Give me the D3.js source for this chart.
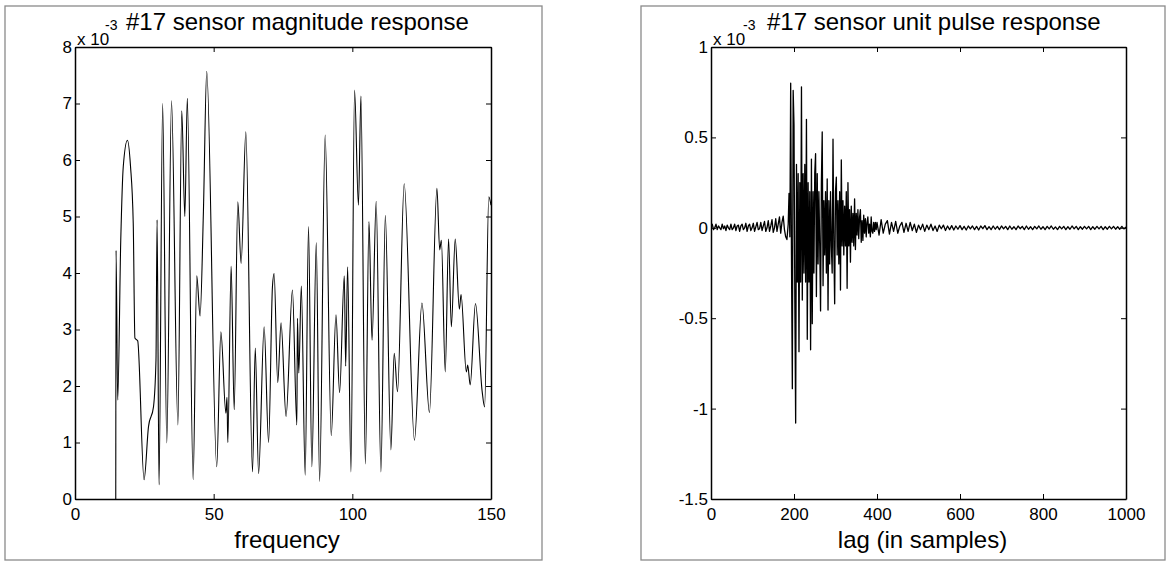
<!DOCTYPE html>
<html>
<head>
<meta charset="utf-8">
<script src="https://cdn.jsdelivr.net/npm/d3@7"></script>
<style>
  body { margin: 0; background: #fff; }
  svg text { font-family: Arial, "Liberation Sans", Helvetica, sans-serif; fill: #000; }
</style>
</head>
<body>
<div id="chart"></div>
<script>
// magnitude response (values are x 1e-3)
let magFreq = [14.7, 14.8, 15.4, 16.5, 17.4, 18.9, 20.0, 21.0, 21.6, 22.6,
  24.9, 26.5, 28.3, 29.2, 29.6, 30.3, 31.6, 33.1, 34.8, 37.1,
  38.5, 39.6, 40.5, 42.6, 43.9, 45.1, 46.3, 47.5, 51.1, 52.6,
  54.4, 54.8, 55.1, 56.3, 57.4, 58.7, 59.9, 61.6, 64.0, 65.0,
  66.2, 68.2, 69.8, 71.2, 71.8, 73.1, 74.3, 76.1, 78.4, 80.0,
  80.2, 80.7, 81.6, 83.0, 84.2, 85.4, 87.0, 88.2, 90.2, 92.4,
  94.1, 95.4, 97.1, 97.6, 98.3, 99.5, 100.8, 102.2, 103.1, 104.7,
  106.0, 107.1, 108.6, 110.3, 111.9, 113.9, 115.1, 116.3, 118.7, 122.4,
  125.1, 127.8, 130.5, 131.5, 132.1, 133.5, 134.7, 135.7, 137.1, 138.6,
  139.2, 141.1, 141.6, 142.5, 144.4, 146.8, 147.7, 149.2, 150]
let magValue = [0, 4.4, 1.75, 4.58, 5.88, 6.35, 5.9, 4.88, 2.85, 2.8,
  0.34, 1.28, 1.63, 2.46, 4.94, 0.25, 7.0, 0.99, 7.05, 1.31,
  6.87, 5.0, 7.09, 0.34, 3.95, 3.24, 5.08, 7.57, 0.57, 2.96,
  1.52, 1.8, 1.0, 4.12, 1.58, 5.26, 4.17, 6.5, 0.48, 2.67,
  0.45, 3.05, 1.0, 3.76, 3.99, 2.06, 3.12, 1.46, 3.7, 1.31,
  3.2, 2.23, 3.77, 0.42, 4.82, 0.57, 4.54, 0.31, 6.44, 1.12,
  3.26, 1.88, 3.95, 2.35, 4.11, 0.48, 7.24, 5.2, 7.13, 0.62,
  4.91, 2.81, 5.27, 0.48, 5.02, 0.87, 2.58, 1.9, 5.58, 1.04,
  3.47, 1.53, 5.5, 4.41, 4.58, 2.25, 4.6, 3.05, 4.6, 3.36,
  3.62, 2.25, 2.37, 2.02, 3.46, 1.91, 1.63, 5.35, 5.2]
let magXTicks = [0, 50, 100, 150]
let magYTicks = [0, 1, 2, 3, 4, 5, 6, 7, 8]

// unit pulse response (values are x 1e-3), three stretches of lags
// lags 0..186, every 3 samples
let pulsePre = [0.01, 0.02, -0.01, 0.0, 0.02, -0.01, 0.01, 0.0, -0.01, 0.02,
  -0.005, 0.01, -0.015, 0.015, 0.0, -0.01, 0.02, -0.01, 0.0, 0.02,
  -0.015, 0.01, 0.015, -0.02, 0.01, 0.02, -0.01, 0.0, 0.025, -0.02,
  0.01, 0.02, -0.015, 0.0, 0.025, -0.02, 0.005, 0.03, -0.01, -0.005,
  0.03, -0.015, 0.01, 0.035, -0.02, 0.0, 0.04, -0.02, 0.01, 0.045,
  -0.025, 0.0, 0.05, -0.02, 0.02, 0.06, -0.03, 0.03, 0.065, -0.01,
  -0.05, -0.065, 0.02]
// lags 188..398, every 2 samples
let pulseBurst = [0.19, -0.05, 0.80, -0.2, -0.89, 0.76, 0.57, -0.4, -1.08, 0.35,
  -0.3, 0.3, -0.685, 0.25, -0.3, 0.78, -0.4, 0.3, -0.25, 0.35,
  -0.3, 0.6, -0.617, 0.25, -0.3, 0.2, -0.675, 0.38, -0.53, 0.2,
  -0.25, 0.3, 0.41, -0.38, 0.3, -0.2, 0.2, -0.1, -0.46, 0.25,
  0.53, -0.32, 0.15, -0.15, 0.2, -0.25, 0.27, -0.455, 0.15, -0.2,
  0.2, -0.1, -0.25, 0.49, -0.1, -0.42, 0.2, 0.28, -0.15, 0.15,
  -0.2, 0.2, -0.344, 0.375, -0.1, 0.15, -0.15, 0.12, -0.1, 0.2,
  -0.335, 0.25, -0.1, 0.1, -0.19, 0.12, -0.08, 0.08, -0.1, 0.16,
  -0.12, 0.08, -0.04, 0.1, -0.06, 0.06, 0.1, -0.08, 0.04, -0.07,
  0.07, -0.03, 0.05, -0.05, 0.03, 0.06, -0.03, 0.02, -0.05, 0.06,
  -0.02, -0.03, 0.03, -0.02, 0.03, -0.01]
// lags 400..1000, every 5 samples
let pulseTail = [0.03, -0.04, 0.045, -0.03, 0.02, 0.04, -0.035, 0.03, -0.02, 0.035,
  -0.03, 0.01, 0.03, -0.025, 0.025, -0.02, 0.03, -0.015, 0.02, -0.025, 0.015,
  -0.01, 0.02, -0.02, 0.015, -0.01, 0.02, -0.015, 0.01, -0.02, 0.015,
  -0.005, 0.015, -0.015, 0.01, -0.01, 0.012, -0.012, 0.01, -0.008, 0.012,
  -0.01, 0.008, -0.012, 0.01, -0.006, 0.01, -0.01, 0.008, -0.012, 0.01,
  -0.005, 0.012, -0.01, 0.006, -0.01, 0.01, -0.008, 0.008, -0.01, 0.01,
  -0.006, 0.008, -0.01, 0.01, -0.008, 0.006, -0.01, 0.01, -0.005, 0.008,
  -0.01, 0.01, -0.008, 0.006, -0.01, 0.008, -0.006, 0.01, -0.008, 0.006,
  -0.01, 0.008, -0.006, 0.01, -0.008, 0.005, -0.01, 0.008, -0.006, 0.008,
  -0.01, 0.006, -0.008, 0.01, -0.006, 0.008, -0.01, 0.006, -0.008, 0.008,
  -0.006, 0.008, -0.01, 0.006, -0.008, 0.008, -0.006, 0.008, -0.01, 0.006,
  -0.008, 0.008, -0.006, 0.008, -0.008, 0.006, -0.008, 0.008, -0.006, 0.004]
let pulseXTicks = [0, 200, 400, 600, 800, 1000]
let pulseYTicks = [-1.5, -1, -0.5, 0, 0.5, 1]

let svg = d3.select("#chart")
  .append("svg")
  .attr("width", 1167)
  .attr("height", 562)

// 各パネルの配置
let panels = [
  {
    frame: [5, 6, 537, 554], left: 75, right: 491, top: 47, bottom: 499,
    xdom: [0, 150], ydom: [0, 8], xticks: magXTicks, yticks: magYTicks,
    title: "#17 sensor magnitude response", xlabel: "frequency",
    titleX: 126, expX: 105,
    points: magFreq.map((f, i) => [f, magValue[i]]),
    curve: d3.curveMonotoneX, lw: 1.1
  },
  {
    frame: [641, 6, 524, 554], left: 711, right: 1126, top: 47, bottom: 499,
    xdom: [0, 1000], ydom: [-1.5, 1], xticks: pulseXTicks, yticks: pulseYTicks,
    title: "#17 sensor unit pulse response", xlabel: "lag (in samples)",
    titleX: 767, expX: 743,
    points: pulsePre.map((v, i) => [i * 3, v])
      .concat(pulseBurst.map((v, i) => [188 + i * 2, v]))
      .concat(pulseTail.map((v, i) => [400 + i * 5, v])),
    curve: d3.curveLinear, lw: 1.3
  }
]

panels.forEach(function (p, k) {
  let fr = p.frame
  svg.append("rect")
    .attr("x", fr[0]).attr("y", fr[1])
    .attr("width", fr[2]).attr("height", fr[3])
    .attr("fill", "none")
    .attr("stroke", "#8a8a8a")
    .attr("stroke-width", 1.3)

  let x = d3.scaleLinear().domain(p.xdom).range([p.left, p.right])
  let y = d3.scaleLinear().domain(p.ydom).range([p.bottom, p.top])
  let fmt = d => String(d)

  // 目盛り（内向き、四辺）
  let axes = [
    [d3.axisBottom(x).tickValues(p.xticks).tickFormat(fmt).tickPadding(9), `translate(0,${p.bottom})`],
    [d3.axisTop(x).tickValues(p.xticks).tickFormat(""), `translate(0,${p.top})`],
    [d3.axisLeft(y).tickValues(p.yticks).tickFormat(fmt).tickPadding(3), `translate(${p.left},0)`],
    [d3.axisRight(y).tickValues(p.yticks).tickFormat(""), `translate(${p.right},0)`]
  ]
  axes.forEach(function (a) {
    let g = svg.append("g")
      .attr("transform", a[1])
      .call(a[0].tickSizeInner(-5).tickSizeOuter(0))
    g.attr("font-size", 17).attr("font-family", null)
    g.select(".domain").attr("stroke", "#000").attr("stroke-width", 1.5)
    g.selectAll(".tick line").attr("stroke", "#000").attr("stroke-width", 1)
    g.selectAll(".tick text").attr("fill", "#000")
  })

  svg.append("clipPath").attr("id", "clip" + k)
    .append("rect")
    .attr("x", p.left).attr("y", p.top)
    .attr("width", p.right - p.left).attr("height", p.bottom - p.top)

  let line = d3.line()
    .x(d => x(d[0]))
    .y(d => y(d[1]))
    .curve(p.curve)

  svg.append("path")
    .datum(p.points)
    .attr("clip-path", `url(#clip${k})`)
    .attr("fill", "none")
    .attr("stroke", "#000")
    .attr("stroke-width", p.lw)
    .attr("stroke-linejoin", "round")
    .attr("d", line)

  // 指数ラベル x 10^-3
  svg.append("text")
    .attr("x", p.left + 2).attr("y", p.top - 2)
    .attr("font-size", 17)
    .text("x 10")
  svg.append("text")
    .attr("x", p.expX).attr("y", p.top - 17)
    .attr("font-size", 14)
    .text("-3")

  // タイトル
  svg.append("text")
    .attr("x", p.titleX).attr("y", p.top - 17)
    .attr("font-size", 24)
    .text(p.title)

  // X軸ラベル
  svg.append("text")
    .attr("x", (p.left + p.right) / 2 + 4)
    .attr("y", 548)
    .attr("text-anchor", "middle")
    .attr("font-size", 24)
    .text(p.xlabel)
})
</script>
</body>
</html>
